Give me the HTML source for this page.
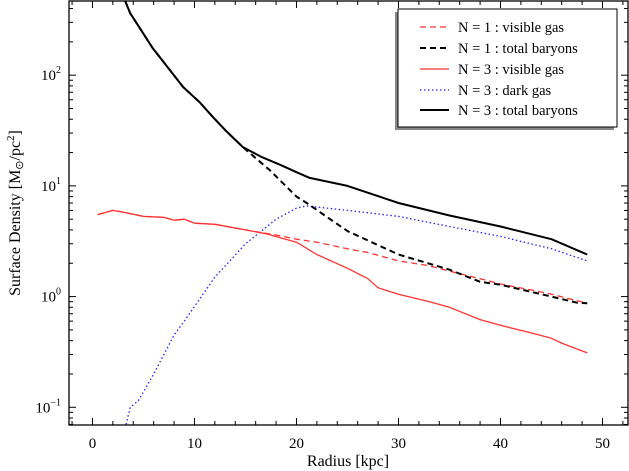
<!DOCTYPE html>
<html><head><meta charset="utf-8"><style>
html,body{margin:0;padding:0;background:#fff}
svg{display:block;font-family:"Liberation Serif",serif}
</style></head><body>
<svg id="chart" width="629" height="471" viewBox="0 0 629 471" xmlns="http://www.w3.org/2000/svg">
<g id="plot"></g>
<g id="axes"></g>
<text x="348" y="466" font-size="16" text-anchor="middle">Radius [kpc]</text>
<text transform="translate(20,213) rotate(-90)" font-size="16" text-anchor="middle">Surface Density [M<tspan font-size="11" dy="3">⊙</tspan><tspan dy="-3">/pc</tspan><tspan font-size="11" dy="-6">2</tspan><tspan dy="6">]</tspan></text>
<g>
<rect x="395" y="12" width="219" height="118" fill="#888"/>
<rect x="398" y="9" width="219" height="118" fill="#fff" stroke="#000" stroke-width="1"/>
<g><line x1="420" y1="27" x2="449" y2="27" stroke="#f33" stroke-width="1.3" stroke-dasharray="6,4"/><text x="458" y="32" font-size="14.5">N = 1 : visible gas</text></g>
<g><line x1="420" y1="48" x2="449" y2="48" stroke="#000" stroke-width="2" stroke-dasharray="6,4"/><text x="458" y="53" font-size="14.5">N = 1 : total baryons</text></g>
<g><line x1="420" y1="69" x2="449" y2="69" stroke="#f33" stroke-width="1.3"/><text x="458" y="74" font-size="14.5">N = 3 : visible gas</text></g>
<g><line x1="420" y1="90" x2="449" y2="90" stroke="#22f" stroke-width="1.3" stroke-dasharray="1.5,2.5"/><text x="458" y="95" font-size="14.5">N = 3 : dark gas</text></g>
<g><line x1="420" y1="110" x2="449" y2="110" stroke="#000" stroke-width="2"/><text x="458" y="115" font-size="14.5">N = 3 : total baryons</text></g>
</g>
</svg>
<script>
const xTicks=[0,10,20,30,40,50];
const yDecades=[-1,0,1,2];
const r1Vis=[0.5,2,3,5,7,8,9,10,12,15,18,20,22,25,27,30,33,35,38,40,43,45,48.5];
const n1Vis=[5.5,6,5.8,5.3,5.2,4.9,5.0,4.6,4.5,4.0,3.6,3.3,3.1,2.7,2.5,2.1,1.9,1.7,1.45,1.3,1.15,1.05,0.87];
const r1Tot=[3.2,3.7,4.95,5.9,7.6,8.9,10.5,11.8,13,14,14.75,17.4,20,21,25,30,35,38,40,45,47.5,48.5];
const n1Tot=[470,363,240,176,111,78,57,42,32,26,22.4,13.8,8,7,3.9,2.4,1.75,1.36,1.28,1.0,0.88,0.87];
const r3Vis=[0.5,2,3,5,7,8,9,10,12,15,17,20,22,25,27,28,30,33,35,38,40,43,45,46,48.5];
const n3Vis=[5.5,6,5.8,5.3,5.2,4.9,5.0,4.6,4.5,4.0,3.7,3.1,2.4,1.8,1.45,1.2,1.05,0.9,0.8,0.62,0.55,0.47,0.42,0.38,0.31];
const r3Dark=[3.3,3.7,4.5,6,8,9,12,15,18,20,21,25,30,35,40,45,48.5];
const n3Dark=[0.07,0.1,0.115,0.2,0.45,0.6,1.5,3.0,5.0,6.3,6.6,6.0,5.3,4.3,3.5,2.7,2.1];
const r3Tot=[3.2,3.7,4.95,5.9,7.6,8.9,10.5,11.8,13,14,14.75,16.6,18.4,20,21.3,25,30,35,40,45,48.5];
const n3Tot=[470,363,240,176,111,78,57,42,32,26,22.4,18.2,15.5,13.3,11.8,10,7,5.4,4.3,3.3,2.4];

const L=69,R=628,T=1,B=425;
const xmin=-2.3,xmax=52.5;
const ymaxLog=2.67,yminLog=-1.16;
const sx=v=>L+(v-xmin)/(xmax-xmin)*(R-L);
const sy=v=>T+(ymaxLog-Math.log10(v))/(ymaxLog-yminLog)*(B-T);
const NS='http://www.w3.org/2000/svg';
const plot=document.getElementById('plot'),axes=document.getElementById('axes');
function mk(tag,attrs,parent){const e=document.createElementNS(NS,tag);for(const k in attrs)e.setAttribute(k,attrs[k]);parent.appendChild(e);return e;}
const cp=mk('clipPath',{id:'clip'},plot);mk('rect',{x:L,y:T,width:R-L,height:B-T},cp);
function series(xs,ys,color,w,dash,name){
  const p=mk('path',{d:xs.map((x,i)=>(i?'L':'M')+sx(x).toFixed(1)+','+sy(ys[i]).toFixed(1)).join(''),fill:'none',stroke:color,'stroke-width':w,'stroke-dasharray':dash,'clip-path':'url(#clip)','stroke-linejoin':'round'},plot);
  
  
}
series(r3Dark,n3Dark,'#22f',1.3,'1.5,2.5','n3-dark-gas-line');
series(r3Vis,n3Vis,'#f33',1.3,'none','n3-visible-gas-line');
series(r1Vis,n1Vis,'#f33',1.3,'6,4','n1-visible-gas-line');
series(r1Tot,n1Tot,'#000',2,'6,4','n1-total-baryons-line');
series(r3Tot,n3Tot,'#000',2,'none','n3-total-baryons-line');
const fr=mk('rect',{x:L,y:T,width:R-L,height:B-T,fill:'none',stroke:'#000','stroke-width':1.3},axes);


for(let v=-2;v<=52;v+=2){
  const X=sx(v);if(X<L||X>R)continue;
  const len=(v%10===0)?7:4;
  mk('line',{x1:X,y1:B,x2:X,y2:B-len,stroke:'#000'},axes);
  mk('line',{x1:X,y1:T,x2:X,y2:T+len,stroke:'#000'},axes);
}
xTicks.forEach(v=>{const t=mk('text',{x:sx(v),y:B+23,'font-size':15,'text-anchor':'middle'},axes);t.textContent=v;
  
  });
for(let d=-2;d<=2;d++)for(let m=1;m<10;m++){
  const v=m*Math.pow(10,d);const Y=sy(v);if(Y<T||Y>B)continue;
  const len=m===1?7:4;
  mk('line',{x1:L,y1:Y,x2:L+len,y2:Y,stroke:'#000'},axes);
  mk('line',{x1:R,y1:Y,x2:R-len,y2:Y,stroke:'#000'},axes);
}
yDecades.forEach(d=>{const t=mk('text',{x:L-8,y:sy(Math.pow(10,d))+5,'font-size':15,'text-anchor':'end'},axes);
  t.innerHTML='10<tspan font-size="10" dy="-7">'+(d<0?'−'+(-d):d)+'</tspan>';
  
  });
</script>
</body></html>
